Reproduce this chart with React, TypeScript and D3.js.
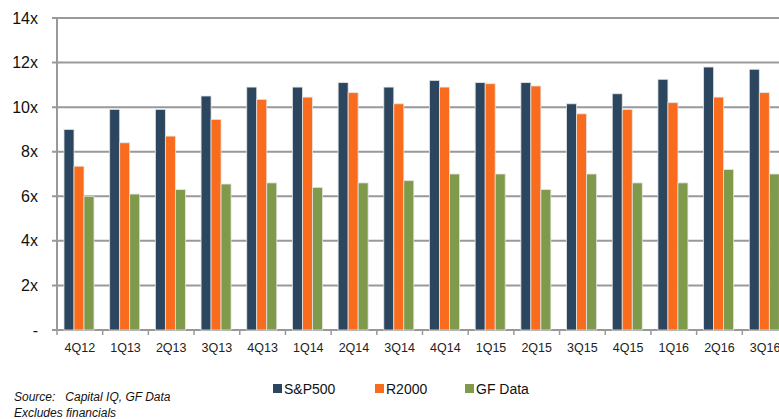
import React, { useRef, useEffect } from 'react';
import * as d3 from 'd3';

// quarters on the x axis
const quarters = ['4Q12', '1Q13', '2Q13', '3Q13', '4Q13', '1Q14', '2Q14', '3Q14', '4Q14', '1Q15', '2Q15', '3Q15', '4Q15', '1Q16', '2Q16', '3Q16'];

// EV / EBITDA multiples
const sp500 = [9.0, 9.9, 9.9, 10.5, 10.9, 10.9, 11.1, 10.9, 11.2, 11.1, 11.1, 10.15, 10.6, 11.25, 11.8, 11.7];
const r2000 = [7.35, 8.4, 8.7, 9.45, 10.35, 10.45, 10.65, 10.15, 10.9, 11.05, 10.95, 9.7, 9.9, 10.2, 10.45, 10.65];
const gfData = [6.0, 6.1, 6.3, 6.55, 6.6, 6.4, 6.6, 6.7, 7.0, 7.0, 6.3, 7.0, 6.6, 6.6, 7.2, 7.0];

const seriesNames = ['S&P500', 'R2000', 'GF Data'];
const yTicks = [0, 2, 4, 6, 8, 10, 12, 14];

const colors = ['#2C4660', '#F96C1D', '#7F9A4B'];

const App = () => {
  const svgRef = useRef<SVGSVGElement>(null);

  useEffect(() => {
    const width = 779;
    const height = 419;
    const svg = d3.select(svgRef.current).attr('width', width).attr('height', height);
    svg.selectAll('*').remove();

    const left = 57;
    const right = 788; // plot runs a bit past the picture edge
    const top = 18;
    const bottom = 330;

    const x = d3.scaleBand<string>().domain(quarters).range([left, right]);
    const xSeries = d3.scaleBand<string>().domain(seriesNames).range([7, 37]);
    const y = d3.scaleLinear().domain([0, 14]).range([bottom, top]);

    // gridlines
    svg.append('g')
      .selectAll('line')
      .data(yTicks)
      .enter().append('line')
      .attr('x1', left - 5)
      .attr('x2', width)
      .attr('y1', d => y(d))
      .attr('y2', d => y(d))
      .style('stroke', '#999')
      .style('stroke-width', 2);

    // y axis line
    svg.append('line')
      .attr('x1', left).attr('x2', left)
      .attr('y1', top).attr('y2', bottom)
      .style('stroke', '#999')
      .style('stroke-width', 2);

    // y labels
    svg.append('g')
      .selectAll('text')
      .data(yTicks)
      .enter().append('text')
      .attr('x', 38)
      .attr('y', d => y(d))
      .attr('dy', '0.35em')
      .attr('text-anchor', 'end')
      .style('font-family', 'Liberation Sans, Arial, sans-serif')
      .style('font-size', '16px')
      .style('fill', '#111')
      .text(d => (d === 0 ? '-' : `${d}x`));

    // x ticks at band edges
    svg.append('g')
      .selectAll('line')
      .data(quarters)
      .enter().append('line')
      .attr('x1', d => x(d)!)
      .attr('x2', d => x(d)!)
      .attr('y1', bottom)
      .attr('y2', bottom + 5)
      .style('stroke', '#999')
      .style('stroke-width', 1.5);

    // bars
    const allSeries = [sp500, r2000, gfData];
    allSeries.forEach((values, si) => {
      svg.append('g')
        .selectAll('rect')
        .data(values)
        .enter().append('rect')
        .attr('x', (d, i) => x(quarters[i])! + xSeries(seriesNames[si])!)
        .attr('y', d => y(d))
        .attr('width', xSeries.bandwidth())
        .attr('height', d => bottom - y(d))
        .style('fill', colors[si])
        .style('stroke', '#e4e4e4')
        .style('stroke-width', 0.8);
    });

    // x labels
    svg.append('g')
      .selectAll('text')
      .data(quarters)
      .enter().append('text')
      .attr('x', d => x(d)! + x.bandwidth() / 2)
      .attr('y', 352)
      .attr('text-anchor', 'middle')
      .style('font-family', 'Liberation Sans, Arial, sans-serif')
      .style('font-size', '12.5px')
      .style('fill', '#222')
      .text(d => d);

    // legend
    const legendX = [273, 375, 465];
    const legend = svg.append('g');
    seriesNames.forEach((name, i) => {
      legend.append('rect')
        .attr('x', legendX[i])
        .attr('y', 384)
        .attr('width', 9)
        .attr('height', 9)
        .style('fill', colors[i]);
      legend.append('text')
        .attr('x', legendX[i] + 11)
        .attr('y', 394)
        .style('font-family', 'Liberation Sans, Arial, sans-serif')
        .style('font-size', '14px')
        .style('fill', '#111')
        .text(name);
    });

    // source note
    svg.append('text')
      .attr('x', 14)
      .attr('y', 401)
      .style('font-family', 'Liberation Sans, Arial, sans-serif')
      .style('font-size', '12px')
      .style('font-style', 'italic')
      .style('white-space', 'pre')
      .style('fill', '#111')
      .text('Source:   Capital IQ, GF Data');
    svg.append('text')
      .attr('x', 14)
      .attr('y', 417)
      .style('font-family', 'Liberation Sans, Arial, sans-serif')
      .style('font-size', '12px')
      .style('font-style', 'italic')
      .style('fill', '#111')
      .text('Excludes financials');
  }, []);

  return (
    <div style={{ position: 'absolute', left: 0, top: 0 }}>
      <svg ref={svgRef}></svg>
    </div>
  );
};

export default App;
